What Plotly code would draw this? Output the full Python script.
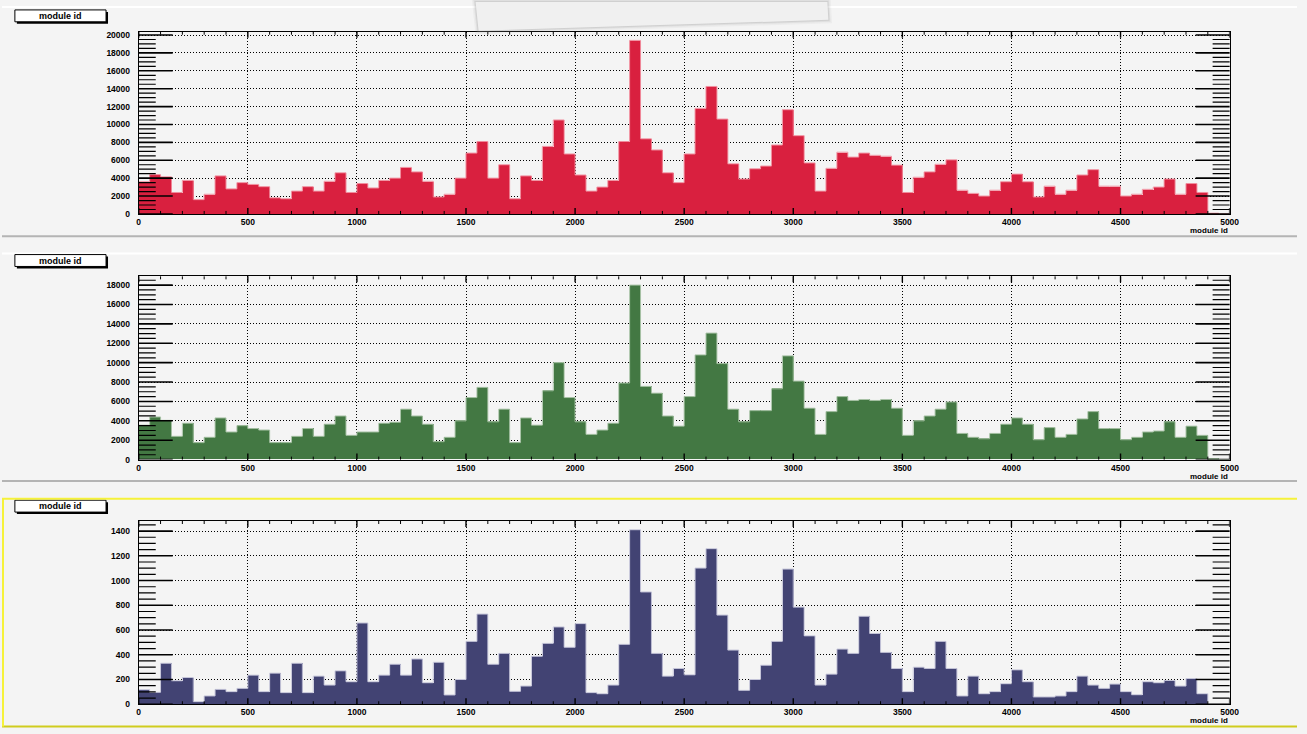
import numpy as np
import plotly.graph_objects as go

# ---- histogram data: entries per module-id bin (bin width 50, range 0..5000) ----
BIN_LO, BIN_HI, BIN_W = 0, 5000, 50

hits_red = [
    3600, 4400, 4150, 2400, 3750, 1600, 2200, 4250, 2800, 3500,
    3300, 3050, 1800, 1700, 2550, 3050, 2550, 3650, 4600, 2400,
    3400, 2900, 3750, 4000, 5200, 4700, 3650, 1900, 2200, 4000,
    6800, 8100, 4000, 5500, 1700, 4250, 3750, 7550, 10500, 6700,
    4350, 2550, 3000, 3750, 8100, 19400, 8400, 7150, 4600, 3500,
    6700, 11800, 14250, 10600, 5600, 3900, 5050, 5350, 7700, 11650,
    8750, 5700, 2550, 5100, 6900, 6350, 6800, 6550, 6450, 5450,
    2400, 4100, 4700, 5550, 6050, 2650, 2300, 2000, 2650, 3600,
    4450, 3600, 1900, 3100, 2200, 2650, 4350, 4950, 3100, 3100,
    2000, 2200, 2750, 3000, 3900, 2200, 3400, 2400, 80, 0,
]

hits_green = [
    3550, 4400, 4050, 2400, 3750, 1750, 2300, 4300, 2850, 3500,
    3200, 3050, 1750, 1750, 2400, 3200, 2400, 3650, 4500, 2500,
    2850, 2850, 3750, 3850, 5200, 4500, 3650, 1850, 2300, 4000,
    6400, 7450, 3900, 5200, 1750, 4300, 3550, 7100, 10000, 6400,
    3900, 2600, 3050, 3750, 7900, 18000, 7550, 6850, 4500, 3450,
    6500, 10800, 13050, 9900, 5200, 3900, 5050, 5050, 7300, 10700,
    8100, 5300, 2600, 4950, 6500, 6100, 6200, 6100, 6200, 5300,
    2500, 4000, 4500, 5200, 5950, 2700, 2300, 2150, 2700, 3650,
    4300, 3650, 2050, 3300, 2300, 2600, 4200, 4950, 3200, 3200,
    2050, 2300, 2850, 2950, 3900, 2300, 3450, 2500, 100, 0,
]

hits_blue = [
    118, 96, 331, 190, 216, 21, 67, 120, 102, 128,
    235, 102, 251, 94, 331, 94, 227, 155, 270, 182,
    657, 182, 235, 323, 235, 366, 174, 339, 75, 200,
    508, 729, 323, 411, 104, 147, 387, 492, 625, 460,
    652, 94, 85, 155, 484, 1411, 908, 411, 227, 289,
    238, 1101, 1258, 721, 438, 112, 200, 315, 508, 1093,
    785, 553, 155, 243, 446, 411, 711, 572, 419, 289,
    102, 299, 289, 508, 289, 67, 227, 85, 102, 166,
    278, 182, 59, 59, 67, 102, 227, 155, 128, 163,
    102, 77, 182, 174, 192, 147, 208, 85, 0, 0,
]

x_title = "module id"
box_title = "module id"

# ---- canvas geometry (pixels) ----
W, H = 1307, 734
FRAME_X0, FRAME_X1 = 138, 1239
pads = [
    dict(top=30, bottom=214, box=8, ttl=231, dmaj=2000, dmin=500,
         fill="#d9203f", edge="#f08a9a", data=hits_red),
    dict(top=277, bottom=462, box=255, ttl=479, dmaj=2000, dmin=500,
         fill="#437843", edge="#a9c3a7", data=hits_green),
    dict(top=524, bottom=709, box=503, ttl=725, dmaj=200, dmin=50,
         fill="#424373", edge="#c4c4d8", data=hits_blue),
]

BG = "#f4f4f4"
FONT = "Liberation Sans"
YTICK_MAJ, YTICK_MIN = 34, 17     # pixel lengths of inward y ticks
XTICK_MAJ, XTICK_MIN = 6, 3       # pixel lengths of inward x ticks


def fx(px):
    return px / W


def fy(py):
    return 1 - py / H


edges = np.arange(BIN_LO, BIN_HI + BIN_W, BIN_W)
centers = (edges[:-1] + edges[1:]) / 2

fig = go.Figure()
shapes = []
annotations = []


def tick_line(xref, yref, value, length, along, side, width):
    """Inward tick of a given pixel length drawn on one frame side."""
    anchor = 0 if side == "lo" else 1
    a0, a1 = (0, length) if side == "lo" else (-length, 0)
    style = dict(color="black", width=width)
    if along == "y":
        return dict(type="line", xref=xref + " domain", yref=yref,
                    xsizemode="pixel", xanchor=anchor, x0=a0, x1=a1,
                    y0=value, y1=value, line=style, layer="above")
    return dict(type="line", xref=xref, yref=yref + " domain",
                ysizemode="pixel", yanchor=anchor, y0=a0, y1=a1,
                x0=value, x1=value, line=style, layer="above")


for i, p in enumerate(pads, start=1):
    sfx = "" if i == 1 else str(i)
    xa, ya = "x" + sfx, "y" + sfx
    vals = np.array(p["data"], dtype=float)
    ymax = vals.max() * 1.05

    fig.add_trace(go.Bar(
        x=centers, y=vals, width=BIN_W, xaxis=xa, yaxis=ya,
        marker=dict(color=p["fill"], line=dict(width=0)),
        showlegend=False, hoverinfo="x+y",
    ))
    # histogram contour
    step_y = np.concatenate([vals, vals[-1:]])
    fig.add_trace(go.Scatter(
        x=edges, y=step_y, mode="lines", line_shape="hv",
        line=dict(color=p["edge"], width=1), xaxis=xa, yaxis=ya,
        showlegend=False, hoverinfo="skip",
    ))

    xdom = [fx(FRAME_X0), fx(FRAME_X1)]
    ydom = [fy(p["bottom"]), fy(p["top"])]
    axis_common = dict(showline=True, linecolor="black", linewidth=1,
                       mirror=True, ticks="",
                       showgrid=True, gridcolor="black", griddash="1px,2px",
                       gridwidth=1, zeroline=False,
                       tickfont=dict(family=FONT, size=8.5, color="black",
                                     weight="bold"))
    fig.update_layout({
        "xaxis" + sfx: dict(axis_common, domain=xdom, anchor=ya,
                            range=[BIN_LO, BIN_HI], tick0=0, dtick=500,
                            ticklabelstandoff=0),
        "yaxis" + sfx: dict(axis_common, domain=ydom, anchor=xa,
                            range=[0, ymax], tick0=0, dtick=p["dmaj"],
                            tickformat="d", ticklabelstandoff=6),
    })

    # inward tick marks on all four frame sides
    for v in np.arange(0, ymax, p["dmin"]):
        major = np.isclose(v % p["dmaj"], 0)
        ln, wd = (YTICK_MAJ, 1.6) if major else (YTICK_MIN, 1.2)
        shapes.append(tick_line(xa, ya, float(v), ln, "y", "lo", wd))
        shapes.append(tick_line(xa, ya, float(v), ln, "y", "hi", wd))
    for v in np.arange(BIN_LO, BIN_HI + 1, 100):
        major = v % 500 == 0
        ln, wd = (XTICK_MAJ, 1.4) if major else (XTICK_MIN, 1)
        shapes.append(tick_line(xa, ya, float(v), ln, "x", "lo", wd))
        shapes.append(tick_line(xa, ya, float(v), ln, "x", "hi", wd))

    # x axis title at the right end
    annotations.append(dict(
        x=fx(FRAME_X1), y=fy(p["ttl"]), xref="paper", yref="paper",
        xanchor="right", yanchor="middle", showarrow=False,
        text=x_title, font=dict(family=FONT, size=8, color="black",
                                weight="bold")))

    # title box with drop shadow
    bx0, bx1, by0, by1 = 13, 105, p["box"], p["box"] + 12
    shapes.append(dict(type="rect", xref="paper", yref="paper",
                       x0=fx(bx0 + 2), x1=fx(bx1 + 2), y0=fy(by1 + 2),
                       y1=fy(by0 + 2), fillcolor="black",
                       line=dict(width=0), layer="above"))
    shapes.append(dict(type="rect", xref="paper", yref="paper",
                       x0=fx(bx0), x1=fx(bx1), y0=fy(by1), y1=fy(by0),
                       fillcolor="white", line=dict(color="black", width=1),
                       layer="above"))
    annotations.append(dict(
        x=fx((bx0 + bx1) / 2), y=fy((by0 + by1) / 2), xref="paper",
        yref="paper", xanchor="center", yanchor="middle", showarrow=False,
        text=box_title, font=dict(family=FONT, size=9, color="black",
                                  weight="bold")))

# pad borders: light top edge, grey bottom edge
for top, bot in [(5, 236.5), (254, 483.5)]:
    shapes.append(dict(type="line", xref="paper", yref="paper",
                       x0=0, x1=1, y0=fy(top), y1=fy(top),
                       line=dict(color="white", width=2), layer="below"))
    shapes.append(dict(type="line", xref="paper", yref="paper",
                       x0=0, x1=1, y0=fy(bot), y1=fy(bot),
                       line=dict(color="#b4b4b4", width=2), layer="below"))

# highlighted (active) pad outline
shapes.append(dict(type="line", xref="paper", yref="paper", x0=0, x1=1,
                   y0=fy(501.5), y1=fy(501.5),
                   line=dict(color="#f6f23a", width=2), layer="above"))
shapes.append(dict(type="line", xref="paper", yref="paper", x0=0, x1=1,
                   y0=fy(731.5), y1=fy(731.5),
                   line=dict(color="#cfcc1e", width=2), layer="above"))
shapes.append(dict(type="line", xref="paper", yref="paper", x0=fx(1),
                   x1=fx(1), y0=fy(501.5), y1=fy(731.5),
                   line=dict(color="#f6f23a", width=2), layer="above"))

# faint floating panel near the top edge (soft layered edges)
panel = (f"M {fx(478)},{fy(0)} L {fx(481)},{fy(29)} "
         f"L {fx(834)},{fy(18)} L {fx(833)},{fy(0)} Z")
for w, a in [(7, 0.08), (4, 0.14), (2, 0.2)]:
    shapes.append(dict(type="path", xref="paper", yref="paper", path=panel,
                       fillcolor="rgba(0,0,0,0)",
                       line=dict(color=f"rgba(150,150,150,{a})", width=w),
                       layer="above"))
shapes.append(dict(type="path", xref="paper", yref="paper", path=panel,
                   fillcolor="#f0f0f0", line=dict(width=0), layer="above"))

fig.update_layout(
    width=W, height=H, margin=dict(l=0, r=0, t=0, b=0),
    paper_bgcolor=BG, plot_bgcolor=BG, bargap=0, barmode="overlay",
    shapes=shapes, annotations=annotations, showlegend=False,
)

fig.write_html("out.html", config={"displayModeBar": False})
